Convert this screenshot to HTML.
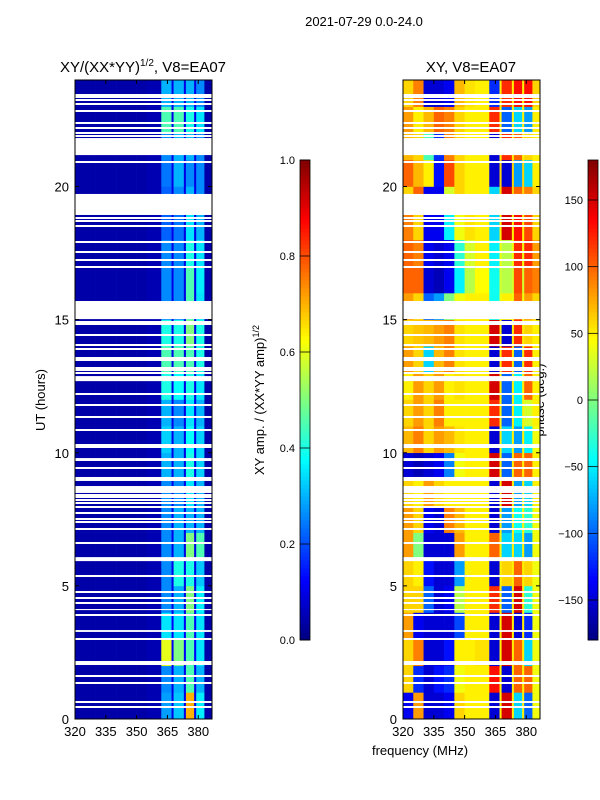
<!DOCTYPE html>
<html><head><meta charset="utf-8"><style>
body{margin:0;background:#fff;}
svg{display:block;font-family:"Liberation Sans","DejaVu Sans",sans-serif;}
</style></head><body>
<svg id="fig" width="600" height="800" viewBox="0 0 600 800">
<text x="364" y="26" font-size="13" text-anchor="middle">2021-07-29 0.0-24.0</text>
<text x="143" y="72" font-size="15" text-anchor="middle">XY/(XX*YY)<tspan font-size="10" dy="-6">1/2</tspan><tspan dy="6">, V8=EA07</tspan></text>
<text x="471" y="72" font-size="15" text-anchor="middle">XY, V8=EA07</text>
<text x="420" y="755" font-size="13" text-anchor="middle">frequency (MHz)</text>
<text x="45" y="400" font-size="13" text-anchor="middle" transform="rotate(-90 45 400)">UT (hours)</text>
<text x="264" y="400" font-size="13" text-anchor="middle" transform="rotate(-90 264 400)">XY amp. / (XX*YY amp)<tspan font-size="9" dy="-5">1/2</tspan></text>
<text x="544" y="400" font-size="13" text-anchor="middle" transform="rotate(-90 544 400)">phase (deg.)</text>
</svg>
<script>
const freqEdges=[320,325,330,335,340,345,350,355,362,367,368,373,374,378,379,383,387];
const hours=[0,1,2,3,4,5,6,7,8,9,10,11,12,13,14,15,16,17,18,19,20,21,22,23];
const ampValues=[
[.04,.04,.04,.04,.04,.04,.04,.05,.28,.1,.32,.1,.7,.1,.36,.04],
[.04,.04,.04,.04,.04,.04,.04,.05,.26,.1,.3,.1,.45,.1,.3,.04],
[.04,.04,.04,.04,.04,.04,.04,.05,.6,.12,.5,.12,.45,.12,.35,.04],
[.04,.04,.04,.04,.04,.04,.04,.05,.35,.12,.35,.12,.45,.12,.35,.04],
[.04,.04,.04,.04,.04,.04,.04,.05,.26,.1,.3,.1,.5,.1,.36,.04],
[.04,.04,.04,.04,.04,.04,.04,.05,.26,.1,.4,.1,.4,.1,.32,.04],
[.04,.04,.04,.04,.04,.04,.04,.05,.26,.1,.3,.1,.5,.1,.45,.04],
[.04,.04,.04,.04,.04,.04,.04,.05,.26,.1,.3,.1,.3,.1,.3,.04],
[.04,.04,.04,.04,.04,.04,.04,.05,.26,.1,.26,.1,.35,.1,.3,.04],
[.04,.04,.04,.04,.04,.04,.04,.05,.3,.1,.3,.1,.4,.1,.33,.04],
[.04,.04,.04,.04,.04,.04,.04,.05,.33,.1,.3,.1,.38,.1,.33,.04],
[.04,.04,.04,.04,.04,.04,.04,.05,.3,.1,.26,.1,.35,.1,.3,.04],
[.04,.04,.04,.04,.04,.04,.04,.05,.4,.1,.38,.1,.4,.1,.35,.04],
[.04,.04,.04,.04,.04,.04,.04,.05,.45,.1,.45,.1,.45,.1,.4,.04],
[.04,.04,.04,.04,.04,.04,.04,.05,.4,.1,.4,.1,.5,.1,.4,.04],
[.04,.04,.04,.04,.04,.04,.04,.05,.26,.1,.26,.1,.45,.1,.35,.04],
[.04,.04,.04,.04,.04,.04,.04,.05,.26,.1,.26,.1,.45,.1,.36,.04],
[.04,.04,.04,.04,.04,.04,.04,.05,.26,.1,.26,.1,.4,.1,.35,.04],
[.04,.04,.04,.04,.04,.04,.04,.05,.22,.1,.24,.1,.35,.1,.3,.04],
[.04,.04,.04,.04,.04,.04,.04,.05,.22,.1,.26,.1,.3,.1,.26,.04],
[.04,.04,.04,.04,.04,.04,.04,.05,.24,.1,.3,.1,.26,.1,.26,.04],
[.04,.04,.04,.04,.04,.04,.04,.05,.26,.1,.3,.1,.3,.1,.26,.04],
[.04,.04,.04,.04,.04,.04,.04,.05,.45,.1,.45,.1,.4,.1,.35,.04],
[.04,.04,.04,.04,.04,.04,.04,.05,.3,.1,.3,.1,.3,.1,.26,.04]];
const phaseValues=[
[-140,80,-150,-150,-140,60,50,50,-150,50,150,50,-60,50,-100,40],
[60,-120,-150,-130,-120,40,50,50,130,50,-150,50,100,50,100,40],
[60,90,-150,-150,-130,50,50,55,-150,50,150,50,100,50,-60,40],
[80,-140,-150,-150,-150,-110,50,50,-150,50,150,50,-150,50,-120,40],
[60,60,-100,-150,-140,20,50,50,120,50,-100,50,150,50,-30,40],
[60,50,-130,-150,-150,-80,50,50,-150,50,60,50,100,50,60,40],
[80,0,-150,-150,-150,80,50,50,100,50,-60,50,-60,50,-80,40],
[80,60,-140,-150,90,70,50,50,-150,50,-80,50,-40,50,-30,40],
[60,50,80,60,50,50,50,50,-150,50,150,50,-80,50,-60,50],
[-150,-160,-150,-140,-90,40,50,50,150,50,-100,50,100,50,100,50],
[70,90,60,80,70,55,50,50,-150,50,-60,50,-80,50,-50,40],
[60,80,60,90,50,50,50,50,120,50,-100,50,-50,50,30,50],
[50,80,60,80,50,55,50,50,150,50,-100,50,-50,50,100,50],
[80,60,-60,70,90,55,50,50,-150,50,120,50,-100,50,120,50],
[60,65,70,80,90,55,50,50,150,50,-150,50,120,50,60,50],
[80,60,-100,-80,0,40,50,50,-40,40,50,40,100,40,80,60],
[100,100,-150,-160,-140,-50,20,45,-40,30,20,30,110,30,100,90],
[100,90,-140,-150,-140,-30,30,50,-50,40,20,40,120,40,120,80],
[90,60,-140,-140,-50,40,55,50,-60,50,150,50,130,50,110,60],
[60,100,-140,-140,30,60,50,50,-60,60,150,60,100,60,90,60],
[100,70,50,-130,110,60,50,50,-150,60,-150,60,-80,60,-60,50],
[70,60,-20,-120,90,60,50,50,-150,50,120,50,100,50,60,50],
[80,50,70,100,90,60,50,50,120,50,-100,50,-60,50,-80,50],
[60,90,-150,-150,-140,70,55,50,-120,50,120,50,130,50,130,60]];
const bigGapStarts=[21.18,18.93,15.02,12.69,9.69,8.94,8.49,5.93,4.09,3.27];
const bigGapEnds=[21.82,19.72,15.70,12.88,9.80,9.09,8.75,6.08,4.13,3.34];
const thinGaps=[23.45,23.35,23.24,23.1,22.83,22.38,22.19,22.0,21.9,20.92,18.81,18.7,18.51,17.9,17.53,17.24,16.97,14.9,14.83,14.42,14.04,13.89,13.56,13.48,13.2,13.1,12.99,12.2,11.79,11.34,10.85,10.29,10.21,9.43,8.41,8.34,8.22,8.11,7.96,7.74,7.51,7.4,7.13,6.61,5.37,4.77,4.54,4.36,3.9,3.0,2.14,2.07,1.61,1.35,0.64,0.45];
const xTicks=[320,335,350,365,380];
const yTicks=[0,5,10,15,20];
const ampTicks=[0,0.2,0.4,0.6,0.8,1.0];
const phaseTicks=[-150,-100,-50,0,50,100,150];

const NS="http://www.w3.org/2000/svg";
const svg=document.getElementById('fig');
function mk(tag,attrs,parent){const e=document.createElementNS(NS,tag);for(const k in attrs)e.setAttribute(k,attrs[k]);(parent||svg).appendChild(e);return e;}
function jet(t){t=Math.max(0,Math.min(1,t));
 const r=Math.min(4*t-1.5,-4*t+4.5),g=Math.min(4*t-0.5,-4*t+3.5),b=Math.min(4*t+0.5,-4*t+2.5);
 const c=v=>Math.round(255*Math.max(0,Math.min(1,v)));return `rgb(${c(r)},${c(g)},${c(b)})`;}
const Y0=719,Y1=80,X0F=320,X1F=386.7;
const yS=h=>Y0-(h/24)*(Y0-Y1);
function panel(px0,px1,vals,vmin,vmax,name){
 const g=mk('g',{});
 
 
 const xS=f=>px0+(f-X0F)/(X1F-X0F)*(px1-px0);
 hours.forEach((h,i)=>{vals[i].forEach((v,j)=>{
  const x=xS(freqEdges[j]),x2=Math.min(xS(freqEdges[j+1]),px1);
  const r=mk('rect',{x:x,y:yS(h+1),width:x2-x+0.3,height:yS(h)-yS(h+1)+0.3,fill:jet((v-vmin)/(vmax-vmin))},g);
  
  
 });});
 bigGapStarts.forEach((s,i)=>{const r=mk('rect',{x:px0,y:yS(bigGapEnds[i]),width:px1-px0,height:yS(s)-yS(bigGapEnds[i]),fill:'#fff'},g);
  
  });
 thinGaps.forEach(t=>{const r=mk('rect',{x:px0,y:Math.round(yS(t))-1,width:px1-px0,height:2,fill:'#fff'},g);
  
  });
 const fr=mk('rect',{x:px0,y:Y1,width:px1-px0,height:Y0-Y1,fill:'none',stroke:'#000','stroke-width':1});
 
 
 xTicks.forEach(f=>{const x=xS(f);
  mk('line',{x1:x,x2:x,y1:Y0,y2:Y0-4,stroke:'#000'});mk('line',{x1:x,x2:x,y1:Y1,y2:Y1+4,stroke:'#000'});
  const t=mk('text',{x:x,y:Y0+17,'font-size':13,'text-anchor':'middle'});t.textContent=f;
  
  });
 yTicks.forEach(h=>{const y=yS(h);
  mk('line',{x1:px0,x2:px0+4,y1:y,y2:y,stroke:'#000'});mk('line',{x1:px1,x2:px1-4,y1:y,y2:y,stroke:'#000'});
  const t=mk('text',{x:px0-6,y:y+5,'font-size':13,'text-anchor':'end'});t.textContent=h;
  
  });
}
panel(75,212,ampValues,0,1,'amp-heatmap');
panel(403,540,phaseValues,-180,180,'phase-heatmap');
function cbar(x,vmin,vmax,ticks,name,fmt){
 const g=mk('g',{});
 
 
 const top=160,bot=640,n=120;
 for(let i=0;i<n;i++){mk('rect',{x:x,y:bot-(i+1)*(bot-top)/n,width:10,height:(bot-top)/n+0.5,fill:jet((i+0.5)/n)},g);}
 mk('rect',{x:x,y:top,width:10,height:bot-top,fill:'none',stroke:'#000','stroke-width':0.8},g);
 ticks.forEach(v=>{const y=bot-(v-vmin)/(vmax-vmin)*(bot-top);
  mk('line',{x1:x,x2:x+10,y1:y,y2:y,stroke:'#000','stroke-width':0.8},g);
  const t=mk('text',{x:x-5,y:y+4,'font-size':11,'text-anchor':'end'},g);t.textContent=fmt(v);
  
  });
}
cbar(300,0,1,ampTicks,'amp-colorbar',v=>v.toFixed(1));
cbar(588,-180,180,phaseTicks,'phase-colorbar',v=>v<0?'\u2212'+(-v):''+v);
</script>
</body></html>
